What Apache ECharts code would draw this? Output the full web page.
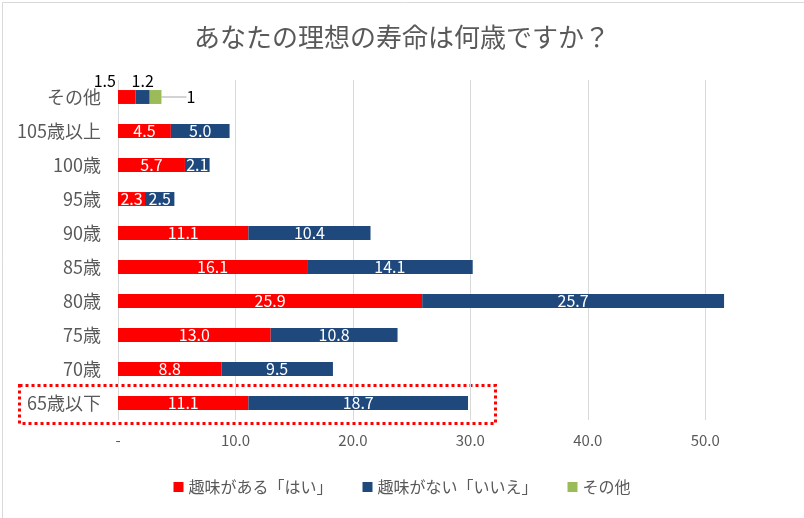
<!DOCTYPE html>
<html><head><meta charset="utf-8">
<script src="https://cdn.jsdelivr.net/npm/echarts@6/dist/echarts.min.js"></script>
<style>html,body{margin:0;padding:0;background:#fff}#c{width:804px;height:518px}</style>
</head><body><div id="c"></div>
<script>
const categories = ['65歳以下','70歳','75歳','80歳','85歳','90歳','95歳','100歳','105歳以上','その他'];
const yesValues = [11.1, 8.8, 13.0, 25.9, 16.1, 11.1, 2.3, 5.7, 4.5, 1.5];
const noValues = [18.7, 9.5, 10.8, 25.7, 14.1, 10.4, 2.5, 2.1, 5.0, 1.2];
const otherValues = [null, null, null, null, null, null, null, null, null, 1];
const seriesNames = ['趣味がある「はい」', '趣味がない「いいえ」', 'その他'];
const xTicks = [0, 10, 20, 30, 40, 50];

const font = '"Noto Sans CJK JP", "Noto Sans", sans-serif';
const grey = '#595959';
const chart = echarts.init(document.getElementById('c'));

function barData(vals, lastSpecial) {
  return vals.map((v, i) => {
    if (i === vals.length - 1 && lastSpecial) return { value: v, label: lastSpecial };
    return v;
  });
}

chart.setOption({
  animation: false,
  textStyle: { fontFamily: font },
  title: {
    text: 'あなたの理想の寿命は何歳ですか？',
    left: 'center', top: 19,
    textStyle: { fontFamily: font, fontSize: 26, fontWeight: 'normal', color: grey }
  },
  legend: {
    bottom: 18, left: 'center', itemWidth: 10, itemHeight: 10, itemGap: 30,
    icon: 'rect',
    textStyle: { fontFamily: font, fontSize: 16, color: grey },
    data: seriesNames
  },
  grid: { left: 118, right: 40, top: 80, height: 340, containLabel: false },
  xAxis: {
    type: 'value', min: 0, max: 55, interval: 10,
    axisLine: { show: false }, axisTick: { show: false },
    splitLine: { showMaxLine: false, lineStyle: { color: '#d9d9d9' } },
    axisLabel: {
      fontSize: 15, color: grey, margin: 13, fontFamily: font, showMaxLabel: false,
      formatter: v => v === 0 ? '-' : (xTicks.indexOf(v) >= 0 ? v.toFixed(1) : '')
    }
  },
  yAxis: {
    type: 'category', data: categories,
    axisLine: { show: false }, axisTick: { show: false },
    axisLabel: { fontSize: 18, color: grey, margin: 17, fontFamily: font }
  },
  series: [
    {
      name: seriesNames[0], type: 'bar', stack: 's', barWidth: '41%',
      itemStyle: { color: '#ff0000' },
      label: { show: true, position: 'inside', color: '#fff', fontSize: 16, fontFamily: font,
        formatter: p => p.value.toFixed(1) },
      data: barData(yesValues, { position: 'top', color: '#000', offset: [-22, 0], distance: 1 })
    },
    {
      name: seriesNames[1], type: 'bar', stack: 's', barWidth: '41%',
      itemStyle: { color: '#1f497d' },
      label: { show: true, position: 'inside', color: '#fff', fontSize: 16, fontFamily: font,
        formatter: p => p.value.toFixed(1) },
      data: barData(noValues, { position: 'top', color: '#000', distance: 1 })
    },
    {
      name: seriesNames[2], type: 'bar', stack: 's', barWidth: '41%',
      itemStyle: { color: '#9bbb59' },
      label: { show: true, position: 'right', color: '#000', fontSize: 16, fontFamily: font,
        formatter: p => p.value == null ? '' : String(p.value) },
      labelLayout: { dx: 20 },
      labelLine: { show: true, lineStyle: { color: '#a6a6a6', width: 1 } },
      data: otherValues
    }
  ],
  graphic: [
    { type: 'rect', left: 17, top: 383, shape: { width: 476, height: 38 },
      style: { fill: 'none', stroke: '#ff0000', lineWidth: 3, lineDash: [3, 3] }, silent: true },
    { type: 'rect', left: 0, top: 0, shape: { width: 803, height: 517 },
      style: { fill: 'none', stroke: '#d9d9d9', lineWidth: 1 }, silent: true }
  ]
});
</script></body></html>
